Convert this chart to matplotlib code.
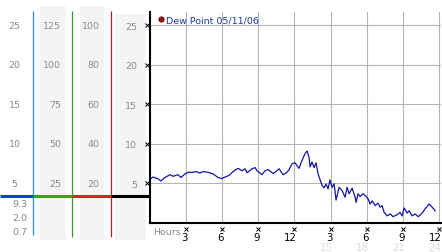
import matplotlib

matplotlib.use("Agg")
import matplotlib.pyplot as plt
from matplotlib.lines import Line2D
from matplotlib.transforms import offset_copy

# dew point readings over the day (hours since midnight, deg)
hours = [
    0.0, 0.29, 0.70, 0.95, 1.28, 1.70, 1.95, 2.36, 2.61, 2.94, 3.19, 3.60, 3.85, 4.18,
    4.43, 4.85, 5.26, 5.68, 6.01, 6.09, 6.42, 6.67, 6.92, 7.33, 7.66, 7.91, 8.08, 8.50,
    8.74, 8.91, 9.32, 9.57, 9.82, 10.23, 10.48, 10.73, 11.06, 11.39, 11.56, 11.81, 12.05,
    12.38, 12.63, 12.88, 13.05, 13.21, 13.30, 13.46, 13.63, 13.79, 13.96, 14.13, 14.29,
    14.46, 14.62, 14.79, 14.95, 15.12, 15.29, 15.45, 15.70, 15.95, 16.20, 16.36, 16.53,
    16.78, 17.03, 17.11, 17.27, 17.44, 17.69, 17.94, 18.10, 18.27, 18.44, 18.69, 18.93,
    19.10, 19.26, 19.43, 19.68, 19.93, 20.17, 20.51, 20.75, 20.92, 21.09, 21.33, 21.50,
    21.75, 22.00, 22.25, 22.58, 22.83, 23.16, 23.41, 23.65,
]
dew_point = [
    5.5, 5.8, 5.6, 5.3, 5.75, 6.1, 5.9, 6.1, 5.75, 6.2, 6.4, 6.4, 6.5, 6.3,
    6.5, 6.4, 6.2, 5.75, 5.6, 5.7, 5.9, 6.1, 6.5, 6.9, 6.6, 6.85, 6.35, 6.85,
    7.0, 6.6, 6.1, 6.6, 6.75, 6.25, 6.5, 6.85, 6.1, 6.4, 6.75, 7.5, 7.6,
    6.9, 7.9, 8.75, 9.1, 8.3, 7.1, 7.7, 7.0, 7.6, 6.2, 5.45, 4.75,
    4.45, 4.9, 4.3, 5.45, 4.5, 4.95, 2.9, 4.5, 4.1, 3.25, 4.5, 3.7,
    4.4, 3.25, 2.6, 3.7, 3.35, 3.7, 3.35, 3.05, 2.4, 2.8, 2.2, 2.5,
    2.0, 2.2, 1.35, 0.9, 1.15, 0.8, 1.05, 1.35, 0.9, 1.9, 1.25, 1.55,
    0.9, 1.15, 0.8, 1.25, 1.8, 2.4, 2.0, 1.55,
]

x_ticks = [3, 6, 9, 12, 15, 18, 21, 24]
x_tick_labels = ["3", "6", "9", "12", "3", "6", "9", "12"]
x_day_ticks = [15, 18, 21, 24]
x_day_labels = ["15", "18", "21", "24"]

y_ticks = [5, 10, 15, 20, 25]
scale_a_labels = ["5", "10", "15", "20", "25"]
scale_b_labels = ["25", "50", "75", "100", "125"]
scale_c_labels = ["20", "40", "60", "80", "100"]
stat_labels = ["9.3", "2.0", "0.7"]
current_level = 3.4
legend_label = "Dew Point 05/11/06"

# layout in pixels
W, H = 442, 253
AX_LEFT, AX_RIGHT, AX_TOP, AX_BOTTOM = 149.5, 441, 13, 224
PX_PER_HOUR = (439.3 - AX_LEFT) / 24
Y_MAX = 26.65
FS = 6.8
GRAY = "#8a8a8a"


def px_to_val(py: float) -> float:
    return (AX_BOTTOM - py) / (AX_BOTTOM - AX_TOP) * Y_MAX


plt.rcParams["font.family"] = "DejaVu Sans"
fig = plt.figure(figsize=(W / 100, H / 100), dpi=100)

# left-hand scale panel, x in pixels, y in dew point units
side = fig.add_axes([0, 0, 1, 1], zorder=0)
side.set_xlim(0, W)
side.set_ylim(px_to_val(H), px_to_val(0))
side.axis("off")

for x0, x1, top in [(40, 66, 7), (80, 104, 7), (115, 146, 15)]:
    side.axvspan(x0, x1, ymin=1 - 241 / H, ymax=1 - top / H, color="#f4f4f4", lw=0)

for v, a, b, c in zip(y_ticks, scale_a_labels, scale_b_labels, scale_c_labels):
    side.text(14.5, v, a, ha="center", va="center", fontsize=FS, color=GRAY)
    side.text(61, v, b, ha="right", va="center", fontsize=FS, color=GRAY)
    side.text(99.5, v, c, ha="right", va="center", fontsize=FS, color=GRAY)

for py, label in zip([205, 219, 233], stat_labels):
    side.text(20, px_to_val(py), label, ha="center", va="center", fontsize=FS, color=GRAY)

for x, col, bottom in [(33, "#2d92cc", 236), (72, "#2f9a2f", 238), (111, "#b22222", 238)]:
    side.vlines(x, px_to_val(bottom), px_to_val(12), color=col, lw=0.9)

for x0, x1, col in [(0, 33, "#1040e0"), (33, 72, "#22b022"), (72, 111, "#e02020"), (111, AX_LEFT, "black")]:
    side.hlines(current_level, x0, x1, color=col, lw=2.2)

# main chart
ax = fig.add_axes(
    [AX_LEFT / W, 1 - AX_BOTTOM / H, (AX_RIGHT - AX_LEFT) / W, (AX_BOTTOM - AX_TOP) / H],
    zorder=1,
)
ax.set_xlim(0, (AX_RIGHT - AX_LEFT) / PX_PER_HOUR)
ax.set_ylim(0, Y_MAX)
ax.set_axisbelow(True)
ax.grid(True, color="#b4b4b4", lw=0.8)
for side_name in ("top", "right"):
    ax.spines[side_name].set_visible(False)
for side_name in ("left", "bottom"):
    ax.spines[side_name].set_linewidth(1.5)
    ax.spines[side_name].set_color("black")

ax.plot(hours, dew_point, color="#1414a8", lw=0.9)

ax.set_xticks(x_ticks, labels=[])
ax.set_yticks(y_ticks, labels=scale_a_labels)
ax.tick_params(axis="x", length=0)
ax.tick_params(axis="y", length=0, pad=9.0, labelsize=FS, labelcolor=GRAY)

# hour labels sit right-aligned just past their tick
label_tf = offset_copy(ax.get_xaxis_transform(), fig=fig, x=2.0, y=0, units="dots")
for x, label in zip(x_ticks, x_tick_labels):
    ax.text(x, -0.064, label, transform=label_tf, ha="right", va="center",
            fontsize=FS + 0.6, color="black")
for x, label in zip(x_day_ticks, x_day_labels):
    ax.text(x, -0.116, label, transform=label_tf, ha="right", va="center",
            fontsize=FS + 0.6, color="#dcdcdc")

ax.plot(x_ticks, [-0.028] * len(x_ticks), transform=ax.get_xaxis_transform(),
        ls="none", marker="x", ms=2.4, mew=0.7, color="black", clip_on=False)
ax.plot([-0.0096] * len(y_ticks), y_ticks, transform=ax.get_yaxis_transform(),
        ls="none", marker="x", ms=2.4, mew=0.7, color="black", clip_on=False)

ax.text(0.012, -0.038, "Hours", transform=ax.transAxes, ha="left", va="center",
        fontsize=FS, color=GRAY)

handle = Line2D([], [], ls="none", marker="o", ms=3.8, mfc="#a01010", mec="#501010", mew=0.6)
ax.legend([handle], [legend_label], loc="center left", bbox_to_anchor=(0.031, 0.9635),
          frameon=False, fontsize=FS, labelcolor="#1a35b0", handlelength=0.5,
          handletextpad=0.25, borderpad=0, borderaxespad=0)

fig.savefig("out.png", dpi=100)
